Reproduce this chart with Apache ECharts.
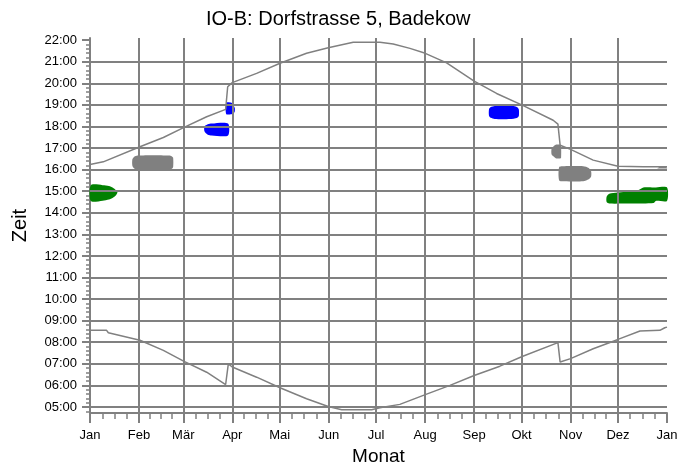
<!DOCTYPE html>
<html>
<head>
<meta charset="utf-8">
<script src="https://cdn.jsdelivr.net/npm/echarts@6/dist/echarts.min.js"></script>
<style>
  html, body { margin: 0; padding: 0; background: #fff; }
  #chart { width: 697px; height: 473px; }
</style>
</head>
<body>
<div id="chart"></div>
<script>
// x = Tag im Jahr (0..365), y = Uhrzeit in Stunden
const monthDays = [0, 31, 59, 90, 120, 151, 181, 212, 243, 273, 304, 334, 365]
const monthLabels = ['Jan', 'Feb', 'Mär', 'Apr', 'Mai', 'Jun', 'Jul', 'Aug', 'Sep', 'Okt', 'Nov', 'Dez', 'Jan']
const hourTicks = [5, 6, 7, 8, 9, 10, 11, 12, 13, 14, 15, 16, 17, 18, 19, 20, 21, 22]

// Sonnenuntergang
const sunset = [
  [0, 16.24], [8.4, 16.36], [31.6, 17.06], [46.4, 17.49], [59.5, 17.96], [73.8, 18.45],
  [85.8, 18.79], [87.1, 19.84], [90, 20.03], [105.4, 20.46], [120.2, 20.93], [137, 21.39],
  [150.7, 21.65], [166.5, 21.9], [183.4, 21.9], [191.8, 21.82], [202.4, 21.62], [212.1, 21.39],
  [225.6, 20.95], [243, 20.1], [257.2, 19.53], [273.4, 18.99], [293, 18.29], [296, 18.11],
  [297.4, 17.13], [304, 16.94], [318.3, 16.44], [334, 16.16], [350, 16.13], [365, 16.13]
]
// Sonnenaufgang
const sunrise = [
  [0, 8.55], [10.5, 8.55], [11.6, 8.44], [31.6, 8.09], [46.4, 7.62], [59.5, 7.11],
  [73.8, 6.61], [85.8, 6.04], [87.5, 7.0], [90, 6.85], [105.4, 6.38], [120.2, 5.89],
  [137, 5.38], [150.7, 5.02], [159.2, 4.87], [178.2, 4.87], [179.2, 4.96], [183.4, 4.96],
  [196, 5.12], [212.1, 5.57], [227.7, 6.0], [243, 6.46], [259.3, 6.89], [273.4, 7.34],
  [296, 7.98], [297.4, 7.08], [304, 7.24], [318.3, 7.7], [334, 8.13], [347.9, 8.52],
  [360.5, 8.55], [363.6, 8.67], [365, 8.7]
]

// Schattenwurf-Flächen: [Tag, von, bis]
const greenJan = [[0.5, 14.54, 15.28], [8, 14.56, 15.28], [12, 14.62, 15.24], [14.5, 14.7, 15.16], [16.3, 14.8, 15.06], [17.3, 14.93, 14.97]]
const grayFeb = [[26.8, 16.18, 16.48], [28, 16.05, 16.6], [30, 15.99, 16.65], [40, 15.97, 16.67], [50, 15.99, 16.65], [51.8, 16.04, 16.61], [52.6, 16.12, 16.55]]
const blueMar = [[72.4, 17.78, 18.0], [74.5, 17.62, 18.1], [77, 17.58, 18.14], [87.3, 17.58, 18.14]]
const blueApr = [[86.2, 18.57, 19.1], [89.5, 18.57, 19.1], [91, 18.62, 18.95], [91.6, 18.7, 18.85]]
const blueSep = [[252.4, 18.5, 18.8], [253.5, 18.4, 18.9], [256, 18.35, 18.95], [262, 18.34, 18.96], [268, 18.36, 18.95], [270.5, 18.42, 18.88], [271.3, 18.5, 18.78]]
const grayOkt = [[292, 16.7, 16.98], [293.5, 16.6, 17.1], [295, 16.52, 17.16], [297.5, 16.52, 17.16], [298, 16.55, 17.1]]
const grayNov = [[296.8, 15.5, 16.12], [300, 15.46, 16.16], [312, 15.46, 16.16], [315.5, 15.55, 16.08], [317, 15.68, 15.92]]
const greenDez = [[326.8, 14.5, 14.74], [328.5, 14.43, 14.88], [340, 14.43, 14.98], [347, 14.43, 15.05], [350, 14.43, 15.17], [356.5, 14.45, 15.17], [358, 14.55, 15.17], [365, 14.55, 15.17]]
const grayDez = [[359, 16.05, 16.06], [361, 16.05, 16.16], [364, 16.05, 16.16], [365, 16.05, 16.08]]

const GRAY = '#808080'
const FONT = 'Liberation Sans, Arial, sans-serif'

// kleine Striche: Monate geviertelt, Stunden in 12-Minuten-Schritten
const minorDays = []
for (let i = 0; i < monthDays.length - 1; i++) {
  const a = monthDays[i], b = monthDays[i + 1]
  for (let k = 1; k < 4; k++) minorDays.push(a + (b - a) * k / 4)
}
const minorHours = []
for (let v = 4.8; v <= 22.05; v += 0.2) minorHours.push(Math.round(v * 10) / 10)

const Y_MIN = 4.72
const Y_MAX = 22.1

const blob = (pts, color) => ({
  type: 'custom',
  z: 2,
  silent: true,
  data: pts,
  encode: { x: 0, y: [1, 2] },
  renderItem: (params, api) => {
    if (params.dataIndex !== 0) return null
    const top = pts.map(p => api.coord([p[0], p[2]]))
    const bot = pts.map(p => api.coord([p[0], p[1]])).reverse()
    return {
      type: 'polygon',
      shape: { points: top.concat(bot), smooth: 0.25 },
      style: { fill: color, stroke: null }
    }
  }
})

const curve = (data) => ({
  type: 'line',
  z: 4,
  data: data,
  showSymbol: false,
  silent: true,
  lineStyle: { color: GRAY, width: 1.5 }
})

const chart = echarts.init(document.getElementById('chart'))

const option = {
  animation: false,
  backgroundColor: '#fff',
  textStyle: { fontFamily: FONT },
  title: {
    text: 'IO-B: Dorfstrasse 5, Badekow',
    left: 201,
    top: 4,
    textStyle: { fontFamily: FONT, fontSize: 20, fontWeight: 'normal', color: '#000' }
  },
  grid: { left: 90, right: 30, top: 38, bottom: 60, outerBoundsMode: 'none' },
  xAxis: [
    {
      type: 'value', min: 0, max: 365, position: 'bottom',
      name: 'Monat', nameLocation: 'middle', nameGap: 32,
      nameTextStyle: { fontFamily: FONT, fontSize: 19, color: '#000' },
      axisLine: { lineStyle: { color: GRAY, width: 2 } },
      axisTick: { customValues: monthDays, length: 10, lineStyle: { color: GRAY, width: 2 } },
      axisLabel: {
        customValues: monthDays, margin: 16, fontFamily: FONT, fontSize: 13, color: '#000',
        formatter: v => monthLabels[monthDays.indexOf(v)]
      },
      splitLine: { show: false }
    },
    {
      type: 'value', min: 0, max: 365, position: 'bottom',
      axisLine: { show: false },
      axisTick: { customValues: minorDays, length: 6, lineStyle: { color: GRAY, width: 1.5 } },
      axisLabel: { show: false },
      splitLine: { show: false }
    },
    {
      type: 'value', min: 0, max: 365, position: 'bottom', z: 3,
      axisLine: { show: false },
      axisTick: { show: false, customValues: monthDays.slice(1, -1) },
      axisLabel: { show: false },
      splitLine: { show: true, lineStyle: { color: GRAY, width: 2 } }
    }
  ],
  yAxis: [
    {
      type: 'value', min: Y_MIN, max: Y_MAX, position: 'left',
      name: 'Zeit', nameLocation: 'middle', nameGap: 60,
      nameTextStyle: { fontFamily: FONT, fontSize: 20, color: '#000' },
      axisLine: { show: true, lineStyle: { color: GRAY, width: 2 } },
      axisTick: { show: true, customValues: hourTicks, length: 8, lineStyle: { color: GRAY, width: 2 } },
      axisLabel: {
        customValues: hourTicks, margin: 13, fontFamily: FONT, fontSize: 13, color: '#000',
        formatter: v => (v < 10 ? '0' : '') + v + ':00'
      },
      splitLine: { show: false }
    },
    {
      type: 'value', min: Y_MIN, max: Y_MAX, position: 'left',
      axisLine: { show: false },
      axisTick: { show: true, customValues: minorHours, length: 4, lineStyle: { color: GRAY, width: 1.5 } },
      axisLabel: { show: false },
      splitLine: { show: false }
    },
    {
      type: 'value', min: Y_MIN, max: Y_MAX, position: 'left', z: 3,
      axisLine: { show: false },
      axisTick: { show: false, customValues: hourTicks.slice(0, -1) },
      axisLabel: { show: false },
      splitLine: { show: true, lineStyle: { color: GRAY, width: 2 } }
    }
  ],
  series: [
    blob(greenJan, '#008000'),
    blob(grayFeb, GRAY),
    blob(blueMar, '#0000ff'),
    blob(blueApr, '#0000ff'),
    blob(blueSep, '#0000ff'),
    blob(grayOkt, GRAY),
    blob(grayNov, GRAY),
    blob(greenDez, '#008000'),
    blob(grayDez, GRAY),
    curve(sunset),
    curve(sunrise)
  ]
}

chart.setOption(option)
</script>
</body>
</html>
